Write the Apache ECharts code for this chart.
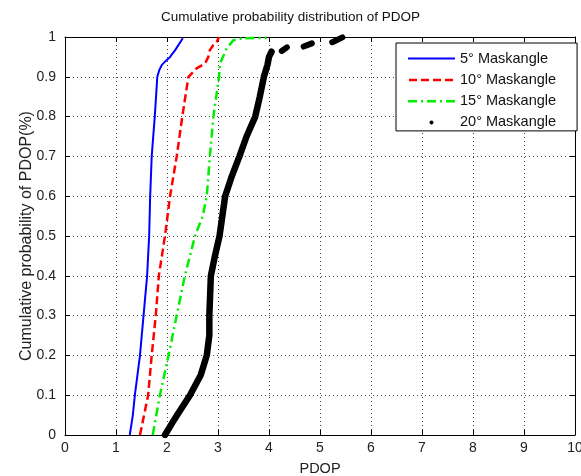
<!DOCTYPE html>
<html>
<head>
<meta charset="utf-8">
<script src="https://cdn.jsdelivr.net/npm/echarts@6/dist/echarts.min.js"></script>
<style>
  html, body { margin: 0; padding: 0; background: #fff; }
  #chart { width: 581px; height: 476px; }
</style>
</head>
<body>
<div id="chart"></div>
<script>
// Empirical CDF of PDOP for four elevation mask angles (x = PDOP, y = cumulative probability)
const names = ['5° Maskangle', '10° Maskangle', '15° Maskangle', '20° Maskangle'];

const pdop5 = [1.27, 1.33, 1.37, 1.42, 1.47, 1.54, 1.61, 1.65, 1.67, 1.70, 1.76, 1.81, 1.85, 1.90, 1.96, 2.06, 2.16, 2.31];
const cdf5  = [0.00, 0.05, 0.10, 0.15, 0.20, 0.30, 0.40, 0.50, 0.60, 0.70, 0.80, 0.90, 0.917, 0.93, 0.938, 0.95, 0.967, 0.997];

const pdop10 = [1.47, 1.55, 1.63, 1.70, 1.78, 1.84, 1.96, 2.06, 2.19, 2.30, 2.42, 2.58, 2.75, 2.81, 2.84, 2.91, 2.97, 3.02];
const cdf10  = [0.00, 0.05, 0.10, 0.20, 0.30, 0.40, 0.50, 0.60, 0.70, 0.80, 0.90, 0.921, 0.934, 0.95, 0.967, 0.98, 0.986, 1.00];

const pdop15 = [1.72, 1.86, 2.03, 2.19, 2.35, 2.55, 2.70, 2.78, 2.84, 2.91, 3.02, 3.04, 3.17, 3.30, 3.50, 3.95];
const cdf15  = [0.00, 0.10, 0.20, 0.30, 0.40, 0.50, 0.55, 0.60, 0.70, 0.80, 0.90, 0.934, 0.971, 0.992, 0.997, 0.998];

const pdop20 = [1.96, 2.10, 2.25, 2.45, 2.66, 2.78, 2.83, 2.83, 2.86, 2.94, 3.03, 3.14, 3.27, 3.42, 3.56, 3.73, 3.82, 3.90, 3.97, 4.00, 4.05];
const cdf20  = [0.00, 0.03, 0.06, 0.10, 0.15, 0.20, 0.25, 0.30, 0.40, 0.45, 0.50, 0.60, 0.65, 0.70, 0.75, 0.80, 0.85, 0.90, 0.93, 0.95, 0.963];
// sparse high-PDOP samples of the 20° curve
const tail20 = [
  [[4.25, 0.965], [4.35, 0.974]],
  [[4.68, 0.976], [4.84, 0.984]],
  [[5.24, 0.987], [5.44, 0.999]]
];

const xTicks = [0, 1, 2, 3, 4, 5, 6, 7, 8, 9, 10];

const zip = (xs, ys) => xs.map((x, i) => [x, ys[i]]);

// legend sample glyphs (MATLAB-style line specs), drawn in a 47x14 box
const box = 'M0,0M47,14';
const icons = [
  'path://' + box + 'M0,6h47v2h-47z',
  'path://' + box + 'M1,6h8v2.4h-8zM13,6h8v2.4h-8zM25,6h8v2.4h-8zM37,6h8v2.4h-8z',
  'path://' + box + 'M0,6h9v2.4h-9zM13,6h2v2.4h-2zM19,6h9v2.4h-9zM32,6h2v2.4h-2zM38,6h9v2.4h-9z',
  'path://' + box + 'M21.5,7.2a2,2 0 1,0 4,0a2,2 0 1,0 -4,0z'
];

const font = 'Liberation Sans, Arial, sans-serif';
const gridLine = { show: true, lineStyle: { color: '#444', width: 1, type: [1, 3] } };
const axisBox = { show: true, onZero: false, lineStyle: { color: '#000', width: 1 } };
const tickIn = { show: true, inside: true, length: 5, lineStyle: { color: '#000' } };

const series = [
  { name: names[0], type: 'line', data: zip(pdop5, cdf5), showSymbol: false, symbol: 'none',
    lineStyle: { color: '#0000ff', width: 2 }, itemStyle: { color: '#0000ff' } },
  { name: names[1], type: 'line', data: zip(pdop10, cdf10), showSymbol: false, symbol: 'none',
    lineStyle: { color: '#ff0000', width: 2.5, type: [8, 4] }, itemStyle: { color: '#ff0000' } },
  { name: names[2], type: 'line', data: zip(pdop15, cdf15), showSymbol: false, symbol: 'none',
    lineStyle: { color: '#00ee00', width: 2.5, type: [9, 4, 2, 4] }, itemStyle: { color: '#00ee00' } },
  { name: names[3], type: 'line', data: zip(pdop20, cdf20), showSymbol: false, symbol: 'none',
    lineStyle: { color: '#000', width: 6.5, cap: 'round', join: 'round' }, itemStyle: { color: '#000' } }
].concat(tail20.map(seg => ({
  name: names[3], type: 'line', data: seg, showSymbol: false, symbol: 'none',
  lineStyle: { color: '#000', width: 6, cap: 'round' }, itemStyle: { color: '#000' }
})));

const chart = echarts.init(document.getElementById('chart'), null, { renderer: 'canvas' });
chart.setOption({
  animation: false,
  backgroundColor: '#fff',
  title: {
    text: 'Cumulative probability distribution of PDOP',
    left: 'center', top: 5,
    textStyle: { fontFamily: font, fontSize: 13.5, fontWeight: 'normal', color: '#111' }
  },
  grid: { left: 65, right: 6, top: 37, bottom: 41, containLabel: false, outerBoundsMode: 'none' },
  legend: {
    data: names.map((n, i) => ({ name: n, icon: icons[i] })),
    orient: 'vertical', left: 396, top: 43,
    itemWidth: 47, itemHeight: 14, itemGap: 6.3,
    padding: [8, 21, 1, 12],
    borderColor: '#000', borderWidth: 1, backgroundColor: '#fff',
    selectedMode: false,
    textStyle: { fontFamily: font, fontSize: 14.5, color: '#111' }
  },
  xAxis: [
    { type: 'value', min: 0, max: 10, interval: 1, position: 'bottom',
      name: 'PDOP', nameLocation: 'middle', nameGap: 26, nameMoveOverlap: false,
      nameTextStyle: { fontFamily: font, fontSize: 14.5, color: '#222' },
      axisLine: axisBox, axisTick: tickIn, splitLine: gridLine,
      axisLabel: { fontFamily: font, fontSize: 14, color: '#222', margin: 6,
        formatter: v => xTicks.includes(v) ? String(v) : '' } },
    { type: 'value', min: 0, max: 10, interval: 1, position: 'top',
      axisLine: axisBox, axisTick: tickIn, splitLine: { show: false }, axisLabel: { show: false } }
  ],
  yAxis: [
    { type: 'value', min: 0, max: 1, interval: 0.1, position: 'left',
      name: 'Cumulative probability of PDOP(%)', nameLocation: 'middle', nameGap: 30, nameMoveOverlap: false,
      nameTextStyle: { fontFamily: font, fontSize: 16, color: '#222' },
      axisLine: axisBox, axisTick: tickIn, splitLine: gridLine,
      axisLabel: { fontFamily: font, fontSize: 14, color: '#222', margin: 9,
        formatter: v => String(Math.round(v * 10) / 10) } },
    { type: 'value', min: 0, max: 1, interval: 0.1, position: 'right',
      axisLine: axisBox, axisTick: tickIn, splitLine: { show: false }, axisLabel: { show: false } }
  ],
  series: series
});
</script>
</body>
</html>
